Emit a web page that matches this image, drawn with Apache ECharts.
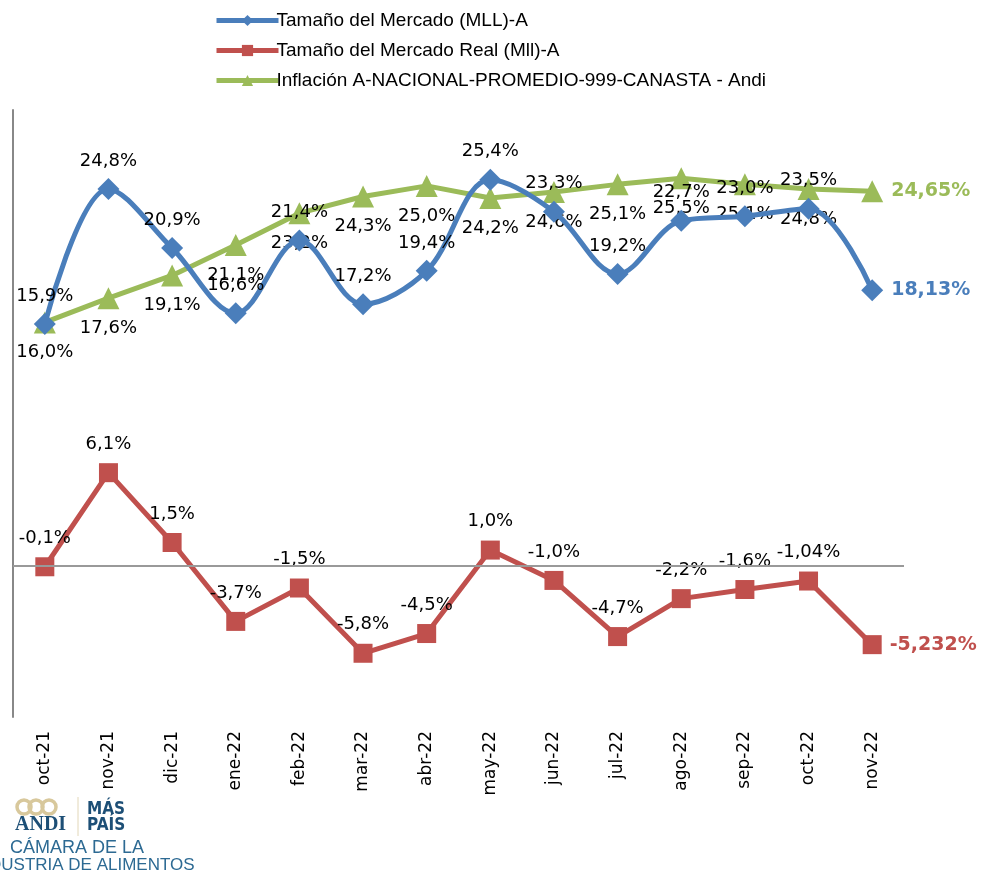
<!DOCTYPE html>
<html>
<head>
<meta charset="utf-8">
<script src="https://cdn.jsdelivr.net/npm/echarts@6/dist/echarts.min.js"></script>
<style>
  html, body { margin: 0; padding: 0; background: #fff; }
  #chart { width: 984px; height: 873px; }
</style>
</head>
<body>
<div id="chart"></div>
<script>
// meses
const meses = ['oct-21', 'nov-21', 'dic-21', 'ene-22', 'feb-22', 'mar-22', 'abr-22',
  'may-22', 'jun-22', 'jul-22', 'ago-22', 'sep-22', 'oct-22', 'nov-22']
// Tamaño del Mercado (MLL)-A
const mercado = [15.9, 24.8, 20.9, 16.6, 21.4, 17.2, 19.4, 25.4, 23.3, 19.2, 22.7, 23.0, 23.5, 18.13]
// Tamaño del Mercado Real (Mll)-A
const mercadoReal = [-0.1, 6.1, 1.5, -3.7, -1.5, -5.8, -4.5, 1.0, -1.0, -4.7, -2.2, -1.6, -1.04, -5.232]
// Inflación
const inflacion = [16.0, 17.6, 19.1, 21.1, 23.2, 24.3, 25.0, 24.2, 24.6, 25.1, 25.5, 25.1, 24.8, 24.65]

const nombres = ['Tamaño del Mercado (MLL)-A', 'Tamaño del Mercado Real (Mll)-A', 'Inflación A-NACIONAL-PROMEDIO-999-CANASTA - Andi']
const colores = ['#4a7ebb', '#c0504d', '#9bbb59']
const fuente = 'DejaVu Sans'

// formato con coma decimal
function pct (v) {
  const d = Math.abs(Math.round(v * 10) - v * 10) < 1e-9 ? v.toFixed(1) : String(v)
  return d.replace('.', ',') + '%'
}

// el último punto lleva etiqueta a la derecha, en negrita y con el color de la serie
function armar (valores, color) {
  return valores.map((v, i) => {
    if (i < valores.length - 1) return v
    return {
      value: v,
      label: { position: 'right', distance: 8, color: color, fontWeight: 'bold', fontSize: 19 }
    }
  })
}

const chart = echarts.init(document.getElementById('chart'))
const etiqueta = { show: true, fontFamily: fuente, fontSize: 18, color: '#000', formatter: p => pct(p.value) }

chart.setOption({
  animation: false,
  textStyle: { fontFamily: fuente },
  legend: {
    orient: 'vertical',
    left: 209,
    top: 6,
    itemWidth: 62,
    itemHeight: 14,
    itemGap: 11,
    lineStyle: { width: 5 },
    textStyle: { fontFamily: 'Liberation Sans', fontSize: 19, color: '#000', padding: [0, 0, 0, -7] },
    data: nombres
  },
  grid: { left: 13, right: 80, top: 110, bottom: 156, containLabel: false },
  xAxis: {
    type: 'category',
    data: meses,
    boundaryGap: true,
    axisLine: { show: false },
    axisTick: { show: false },
    axisLabel: { rotate: 90, margin: 14, fontFamily: fuente, fontSize: 17, color: '#000' }
  },
  yAxis: {
    type: 'value',
    min: -10,
    max: 30,
    interval: 10,
    axisLine: { show: true, lineStyle: { color: '#888', width: 2 } },
    axisTick: { show: false },
    axisLabel: { show: false },
    splitLine: { show: false }
  },
  series: [
    {
      name: nombres[0],
      type: 'line',
      smooth: 0.35,
      data: armar(mercado, colores[0]),
      symbol: 'diamond',
      symbolSize: 22,
      lineStyle: { width: 5, color: colores[0] },
      itemStyle: { color: colores[0] },
      label: Object.assign({ position: 'top', distance: 8 }, etiqueta),
      z: 3
    },
    {
      name: nombres[1],
      type: 'line',
      data: armar(mercadoReal, colores[1]),
      symbol: 'rect',
      symbolSize: 19,
      lineStyle: { width: 5, color: colores[1] },
      itemStyle: { color: colores[1] },
      label: Object.assign({ position: 'top', distance: 10 }, etiqueta),
      markLine: {
        silent: true,
        symbol: 'none',
        label: { show: false },
        lineStyle: { color: '#999', width: 2, type: 'solid' },
        data: [{ yAxis: 0 }]
      },
      z: 3
    },
    {
      name: nombres[2],
      type: 'line',
      data: armar(inflacion, colores[2]),
      symbol: 'triangle',
      symbolSize: 22,
      lineStyle: { width: 5, color: colores[2] },
      itemStyle: { color: colores[2] },
      label: Object.assign({ position: 'bottom', distance: 10 }, etiqueta),
      z: 2
    }
  ],
  // logo de la ANDI
  graphic: [
    { type: 'circle', shape: { cx: 24, cy: 807, r: 7 }, style: { fill: 'none', stroke: '#d8c89c', lineWidth: 3.5 } },
    { type: 'circle', shape: { cx: 36, cy: 807, r: 7 }, style: { fill: 'none', stroke: '#d8c89c', lineWidth: 3.5 } },
    { type: 'circle', shape: { cx: 49, cy: 807, r: 7 }, style: { fill: 'none', stroke: '#d8c89c', lineWidth: 3.5 } },
    { type: 'text', left: 15, top: 815, style: { text: 'ANDI', font: 'bold 20px "Liberation Serif"', fill: '#1d4f76' } },
    { type: 'line', shape: { x1: 78, y1: 797, x2: 78, y2: 836 }, style: { stroke: '#e2d7b8', lineWidth: 1 } },
    { type: 'text', left: 87, top: 801, style: { text: 'MÁS\nPAÍS', font: 'bold 17px "Liberation Sans Narrow", "DejaVu Sans Condensed"', lineHeight: 16, fill: '#1d4f76' } },
    { type: 'text', left: 10, top: 839, style: { text: 'CÁMARA DE LA', font: '18px "Liberation Sans"', fill: '#2d6a93' } },
    { type: 'text', left: -28, top: 857, style: { text: 'INDUSTRIA DE ALIMENTOS', font: '17px "Liberation Sans"', fill: '#2d6a93' } }
  ]
})
</script>
</body>
</html>
